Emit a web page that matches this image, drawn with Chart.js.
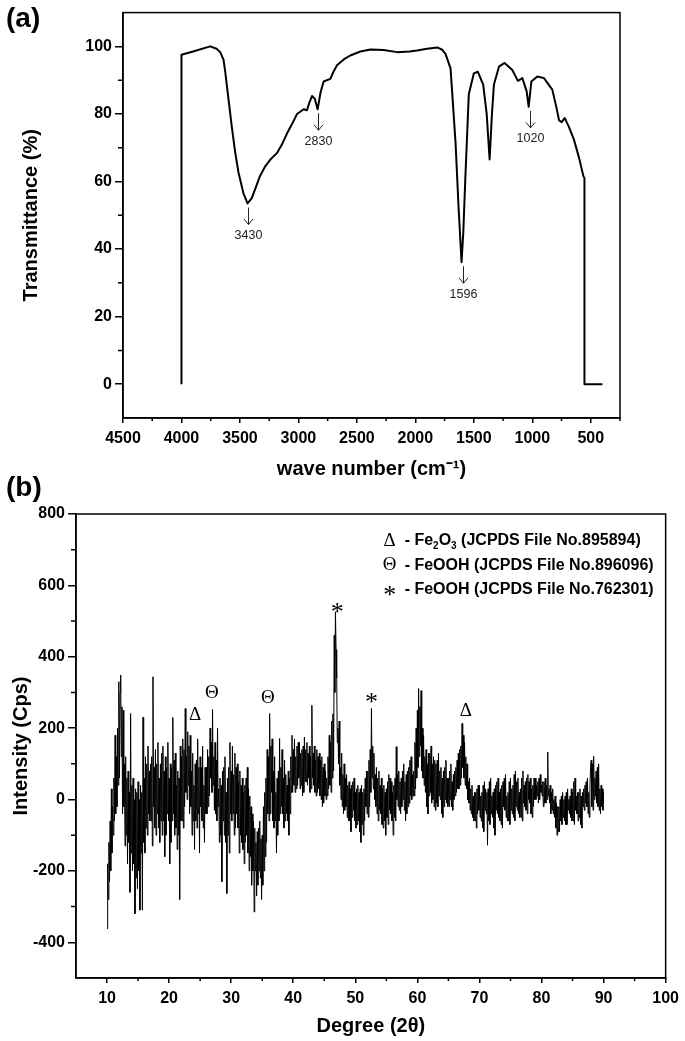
<!DOCTYPE html>
<html>
<head>
<meta charset="utf-8">
<script src="https://cdn.jsdelivr.net/npm/chart.js@4.4.1/dist/chart.umd.min.js"></script>
<style>
html, body { margin: 0; padding: 0; background: #fff; }
#wrap { position: relative; width: 685px; height: 1041px; overflow: hidden; font-family: 'Liberation Sans', Arial, sans-serif; }
.panel { position: absolute; left: 6px; font-weight: bold; font-size: 28px; line-height: 1; color: #000; }
canvas { position: absolute; left: 0; }
#ftir { top: 0; }
#xrd { top: 480px; }
</style>
</head>
<body>
<div id="wrap">
  <canvas id="ftir" width="685" height="500"></canvas>
  <canvas id="xrd" width="685" height="561"></canvas>
  <div class="panel" style="top:4px">(a)</div>
  <div class="panel" style="top:473px">(b)</div>
</div>
<script>
// ---------- (a) FTIR ----------
var ftirWave = [4000, 4000, 3900, 3755, 3700, 3669, 3640, 3626, 3600, 3569, 3540, 3512, 3470, 3435, 3400, 3369,
  3330, 3284, 3240, 3184, 3140, 3098, 3050, 3012, 2955, 2927, 2905, 2884, 2860, 2836, 2810, 2784, 2727, 2700,
  2670, 2610, 2556, 2470, 2384, 2270, 2156, 2050, 1985, 1900, 1813, 1770, 1742, 1699, 1656, 1630, 1605, 1590,
  1572, 1543, 1500, 1466, 1420, 1390, 1365, 1345, 1328, 1285, 1237, 1171, 1123, 1085, 1048, 1031, 1008, 957,
  900, 829, 800, 771, 748, 723, 686, 643, 600, 563, 554, 554, 400];
var ftirT = [0, 97.5, 98.5, 100, 99.3, 98.3, 96, 92.5, 85, 76, 68.5, 62.6, 56.5, 53.5, 55, 57.8,
  61.5, 64.5, 66.5, 68.4, 71, 74.2, 77.3, 80, 81.4, 81.1, 83.5, 85.3, 84.5, 81.4, 86.5, 89.6, 90.4, 92.5,
  94.4, 96.2, 97.3, 98.5, 99.1, 98.9, 98.3, 98.5, 98.8, 99.3, 99.7, 99, 97.8, 93.5, 71.3, 52, 36.1, 45,
  61.6, 85.8, 92, 92.5, 88.7, 80, 66.5, 80, 88.7, 94, 95.1, 93, 89.8, 90.6, 86.7, 82.1, 89.6, 91.1,
  90.6, 87.2, 82.9, 78.1, 77.6, 78.8, 76.1, 72.3, 67, 61.6, 61, 0, 0];
var ftirXTicks = [4500, 4000, 3500, 3000, 2500, 2000, 1500, 1000, 500];
var ftirXMinor = [4250, 3750, 3250, 2750, 2250, 1750, 1250, 750, 250];
var ftirYTicks = [0, 20, 40, 60, 80, 100];
var ftirYMinor = [10, 30, 50, 70, 90];
var ftirPeakWave = [3430, 2830, 1596, 1020];
var ftirPeakT = [53.5, 81.4, 36.1, 82.1];
var ftirPeakLabel = ['3430', '2830', '1596', '1020'];

// ---------- (b) XRD ----------
// one row per degree, 0.1 deg apart, starting at 10
var xrdStart = 10, xrdStep = 0.1;
var xrdCounts = [
  -362,-180,-280,-120,-230,-60,-200,30,-150,-20,
  -100,60,-60,180,-40,120,-20,200,40,330,
  60,300,349,120,260,-40,250,-20,100,-130,
  120,-100,60,-180,80,-120,20,-260,241,-150,
  40,-200,60,-180,0,-320,30,-220,20,-250,
  50,-200,0,-310,40,-150,20,-310,231,-120,
  60,-150,120,-80,100,-100,150,-40,80,-60,
  100,-60,120,-130,344,-20,90,-80,140,-100,
  100,-40,160,-80,60,-120,100,-60,130,-100,
  150,-60,80,-160,120,-100,90,-40,160,-60,
  60,-180,100,-120,90,-60,230,-40,110,-100,
  130,-80,40,-140,80,-100,60,-280,150,-60,
  120,-60,170,-80,140,-20,255,20,120,0,
  190,40,150,-40,180,-20,80,-100,130,-60,
  40,-140,100,-60,110,-80,170,-40,90,-150,
  120,-20,90,-60,150,-80,40,-120,90,-40,
  90,-40,140,-20,120,10,200,60,160,20,
  252,40,120,-30,160,-40,110,-60,200,-20,
  30,-120,60,-100,40,-230,80,-60,90,-100,
  120,-120,20,-263,60,-100,90,-150,160,-40,
  80,-60,150,-40,70,-100,130,-80,90,-40,
  100,-80,50,-150,80,-100,40,-120,60,-140,
  20,-180,40,-120,60,-100,90,-150,30,-200,
  10,-160,-20,-240,-40,-200,-60,-315,-80,-200,
  -120,-270,-90,-240,-80,-200,-60,-220,-110,-280,
  -100,-240,-20,-200,20,-160,60,-120,140,-40,
  120,-60,241,-40,150,20,170,-60,80,-80,
  120,-60,20,-150,60,-100,80,-60,171,-40,
  90,-20,140,-40,60,-80,110,-60,70,-40,
  40,-60,80,-100,60,-40,120,20,180,20,
  140,40,170,20,120,30,150,40,160,60,
  160,30,130,40,140,10,150,20,175,50,
  140,50,160,40,130,60,150,20,120,30,
  264,60,130,40,150,20,110,10,140,20,
  120,30,130,10,110,0,120,-20,90,-10,
  100,10,80,0,60,10,120,30,180,40,
  160,20,220,60,240,80,460,300,526,420,
  340,160,200,100,220,40,90,0,130,-20,
  70,-40,100,-30,60,-20,70,-50,40,-60,
  50,-60,30,-90,40,-50,50,-30,60,-60,
  20,-80,30,-70,40,-60,20,-90,30,-120,
  40,-70,20,-100,30,-60,60,-20,80,-40,
  80,-50,110,-20,140,20,255,60,150,30,
  130,0,70,-20,90,-40,60,-60,80,-30,
  40,-40,60,-70,30,-80,40,-60,20,-100,
  30,-50,50,-70,70,-30,60,-40,50,-60,
  20,-100,40,-50,60,-60,148,0,70,-20,
  80,-30,50,-40,60,-20,80,0,100,-30,
  50,-60,70,-40,80,-20,90,-10,110,10,
  120,0,70,10,80,10,160,30,200,60,
  250,90,311,120,260,150,305,80,200,60,
  180,40,120,20,140,-20,100,-40,130,10,
  130,20,150,-10,100,0,120,-20,110,-30,
  100,-10,110,-20,130,10,80,0,90,-40,
  60,-50,80,-20,90,0,110,-10,60,-20,
  60,-20,80,0,100,-20,50,-30,70,0,
  80,10,90,20,110,30,130,30,140,40,
  150,60,213,90,180,60,160,40,120,30,
  100,0,50,-10,60,-30,30,-40,40,-50,
  10,-60,20,-60,20,-80,30,-40,40,-30,
  40,-50,10,-60,20,-80,40,-90,50,-30,
  30,-40,20,-128,30,-60,50,-70,60,-40,
  10,-50,20,-80,30,-100,40,-30,50,-40,
  60,-50,20,-60,30,-70,40,-80,50,-20,
  60,-30,70,-50,10,-60,20,-60,50,-70,
  60,-30,30,-40,40,-50,70,-60,80,-20,
  50,-30,60,-40,20,-50,30,-50,60,-60,
  80,-10,40,-20,50,-30,60,-40,70,0,
  50,-10,60,-40,30,-50,40,-20,60,0,
  60,0,40,10,50,-10,60,0,70,20,
  40,10,50,-20,50,-10,60,-10,40,0,
  133,10,30,-10,40,-40,20,-30,30,-40,
  0,-50,10,-80,-10,-100,-20,-90,-20,-90,
  0,-60,10,-70,20,-50,0,-60,10,-70,
  20,-70,30,-30,0,-40,10,-50,30,-60,
  20,-60,50,-70,60,-30,10,-40,20,-60,
  20,-50,30,-70,10,-80,20,-20,30,-30,
  40,-10,50,-20,60,-40,20,-50,30,90,
  110,-20,100,-30,121,0,60,10,80,-10,
  90,-20,100,-30,30,-40,40,-20,30,-30,
  20
];
var xrdXTicks = [10, 20, 30, 40, 50, 60, 70, 80, 90, 100];
var xrdXMinor = [15, 25, 35, 45, 55, 65, 75, 85, 95];
var xrdYTicks = [-400, -200, 0, 200, 400, 600, 800];
var xrdYMinor = [-300, -100, 100, 300, 500, 700];
var xrdMarkDeg = [24.2, 26.9, 35.9, 47.1, 52.6, 67.8];
var xrdMarkVal = [236, 298, 284, 539, 287, 248];
var xrdMarkSym = ['\u0394', '\u0398', '\u0398', '*', '*', '\u0394'];
var legendSym = ['\u0394', '\u0398', '*'];
var legendText = [
  [['- Fe', 0], ['2', 1], ['O', 0], ['3', 1], [' (JCPDS File No.895894)', 0]],
  [['- FeOOH (JCPDS File No.896096)', 0]],
  [['- FeOOH (JCPDS File No.762301)', 0]]
];

var SANS = "'Liberation Sans', Arial, sans-serif";
var SERIF = "'Liberation Serif', 'Times New Roman', serif";
Chart.defaults.font.family = SANS;
Chart.defaults.color = '#000';

// box round the plot plus the short minor ticks
var frame = {
  id: 'frame',
  afterDraw: function(chart, args, opts) {
    var ctx = chart.ctx, a = chart.chartArea, x = chart.scales.x, y = chart.scales.y;
    ctx.save();
    ctx.strokeStyle = '#000';
    ctx.lineWidth = 1.5;
    ctx.strokeRect(a.left, a.top, a.right - a.left, a.bottom - a.top);
    ctx.beginPath();
    opts.minorX.forEach(function(v) {
      var px = x.getPixelForValue(v);
      ctx.moveTo(px, a.bottom); ctx.lineTo(px, a.bottom + 3);
    });
    opts.minorY.forEach(function(v) {
      var py = y.getPixelForValue(v);
      ctx.moveTo(a.left, py); ctx.lineTo(a.left - 5, py);
    });
    ctx.stroke();
    ctx.restore();
  }
};

function axis(min, max, ticks, tl, size, title, titlePad, reverse) {
  return {
    type: 'linear', min: min, max: max, reverse: !!reverse,
    afterBuildTicks: function(s) { s.ticks = ticks.map(function(v) { return { value: v }; }); },
    ticks: { autoSkip: false, maxRotation: 0, padding: tl === 5 ? 6 : 3, color: '#000',
      font: { size: 16, weight: 'bold' }, callback: function(v) { return String(v); } },
    grid: { drawOnChartArea: false, drawTicks: true, tickLength: tl, color: '#000', lineWidth: 1.5 },
    border: { display: true, color: '#000', width: 1.5 },
    title: { display: true, text: title, color: '#000', font: { size: 20, weight: 'bold' }, padding: titlePad },
    afterFit: function(s) { if (s.isHorizontal()) s.height = size; else s.width = size; }
  };
}

var ftirArrows = {
  id: 'ftirArrows',
  afterDatasetsDraw: function(chart) {
    var ctx = chart.ctx, x = chart.scales.x, y = chart.scales.y;
    ctx.save();
    ctx.strokeStyle = '#222'; ctx.fillStyle = '#222'; ctx.lineWidth = 1;
    ctx.font = '12.5px ' + SANS;
    ctx.textAlign = 'center'; ctx.textBaseline = 'middle';
    ftirPeakWave.forEach(function(w, i) {
      var px = Math.round(x.getPixelForValue(w)) + 0.5;
      var py = y.getPixelForValue(ftirPeakT[i]);
      ctx.beginPath();
      ctx.moveTo(px, py + 4); ctx.lineTo(px, py + 21);
      ctx.moveTo(px - 4.5, py + 15.5); ctx.lineTo(px, py + 21); ctx.lineTo(px + 4.5, py + 15.5);
      ctx.stroke();
      ctx.fillText(ftirPeakLabel[i], px, py + 32);
    });
    ctx.restore();
  }
};

function drawSym(ctx, s, x, y) {
  if (s === '*') {
    ctx.font = '26px ' + SERIF;
    ctx.fillText(s, x, y + 6);
  } else {
    ctx.font = '19px ' + SERIF;
    ctx.fillText(s, x, y);
  }
}

var xrdNotes = {
  id: 'xrdNotes',
  afterDatasetsDraw: function(chart) {
    var ctx = chart.ctx, a = chart.chartArea, x = chart.scales.x, y = chart.scales.y;
    ctx.save();
    ctx.fillStyle = '#000';
    ctx.textAlign = 'center'; ctx.textBaseline = 'middle';
    xrdMarkDeg.forEach(function(d, i) {
      drawSym(ctx, xrdMarkSym[i], x.getPixelForValue(d), y.getPixelForValue(xrdMarkVal[i]));
    });
    // legend block, top right
    for (var r = 0; r < legendSym.length; r++) {
      var ly = a.top + 27 + r * 24.5;
      ctx.textAlign = 'center';
      drawSym(ctx, legendSym[r], a.right - 276, ly);
      ctx.textAlign = 'left';
      var lx = a.right - 261;
      legendText[r].forEach(function(seg) {
        ctx.font = 'bold ' + (seg[1] ? 10 : 16) + 'px ' + SANS;
        ctx.fillText(seg[0], lx, ly + (seg[1] ? 5 : 0));
        lx += ctx.measureText(seg[0]).width;
      });
    }
    ctx.restore();
  }
};

new Chart(document.getElementById('ftir'), {
  type: 'line',
  data: { datasets: [{
    data: ftirWave.map(function(w, i) { return { x: w, y: ftirT[i] }; }),
    borderColor: '#000', borderWidth: 2, pointRadius: 0, tension: 0, borderJoinStyle: 'round', fill: false
  }] },
  options: {
    responsive: false, animation: false,
    layout: { padding: { left: 0, right: 65, top: 3, bottom: 0 } },
    plugins: { legend: { display: false }, tooltip: { enabled: false },
      frame: { minorX: ftirXMinor, minorY: ftirYMinor } },
    scales: {
      x: axis(250, 4500, ftirXTicks, 5, 82, 'wave number (cm\u207B\u00B9)', { top: 0, bottom: 19 }, true),
      y: axis(-10, 110, ftirYTicks, 8, 123, 'Transmittance (%)', { top: 19, bottom: 0 })
    }
  },
  plugins: [frame, ftirArrows]
});

new Chart(document.getElementById('xrd'), {
  type: 'line',
  data: { datasets: [{
    data: xrdCounts.map(function(c, i) { return { x: xrdStart + i * xrdStep, y: c }; }),
    borderColor: '#000', borderWidth: 1, pointRadius: 0, tension: 0, fill: false
  }] },
  options: {
    responsive: false, animation: false,
    layout: { padding: { left: 0, right: 16, top: 34, bottom: 0 } },
    plugins: { legend: { display: false }, tooltip: { enabled: false },
      frame: { minorX: xrdXMinor, minorY: xrdYMinor } },
    scales: {
      x: axis(5, 100, xrdXTicks, 5, 63, 'Degree (2\u03B8)', { top: 0, bottom: 3 }),
      y: axis(-500, 800, xrdYTicks, 8, 76, 'Intensity (Cps)', { top: 9, bottom: 0 })
    }
  },
  plugins: [frame, xrdNotes]
});
</script>
</body>
</html>
